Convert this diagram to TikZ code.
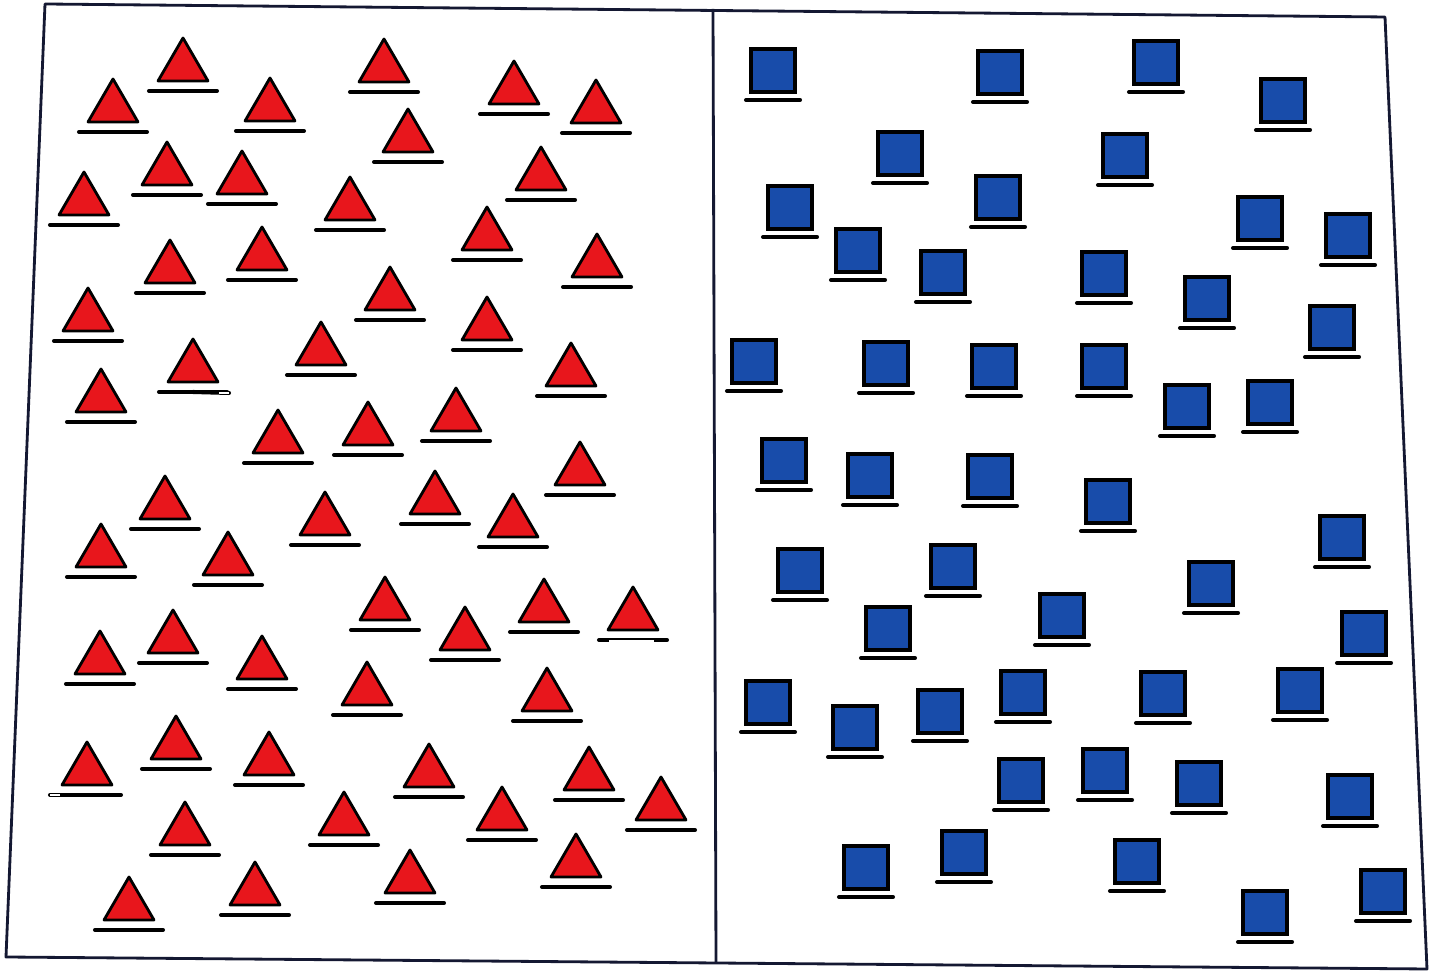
\documentclass[tikz,border=0pt]{standalone}
\definecolor{trired}{RGB}{232,22,28}
\definecolor{sqblue}{RGB}{24,76,170}
\definecolor{framecol}{RGB}{20,24,50}
\tikzset{
  underline/.style={line width=1.15pt, line cap=round, black},
  trishape/.style={fill=trired, draw=black, line width=0.8pt, line join=round},
  sqshape/.style={fill=sqblue, draw=black, line width=0.9pt},
  frameline/.style={draw=framecol, line width=0.8pt, line join=round},
  tri/.pic={\path[trishape] (-25,-10) -- (0,-53) -- (25,-10) -- cycle;
            \draw[underline] (-34,0) -- (34,0);},
  sq/.pic={\path[sqshape] (-22,-51) rectangle (22,-8);
           \draw[underline] (-27,0) -- (27,0);},
}
\begin{document}
\begin{tikzpicture}[x=0.01cm, y=-0.01cm]
\useasboundingbox (0,0) rectangle (1436,971);
\fill[white] (0,0) rectangle (1436,971);
% frame
\coordinate (tl) at (45,4);
\coordinate (tr) at (1385,17);
\coordinate (br) at (1427,969);
\coordinate (bl) at (6,957);
\coordinate (dt) at (713,9);
\coordinate (db) at (716,963);
\draw[frameline] (tl) -- (tr) -- (br) -- (bl) -- cycle;
\draw[frameline] (dt) -- (db);
% triangles
\foreach \px/\py [count=\i] in {
 183/91, 113/132, 270/131, 384/92, 514/114, 596/133, 408/162, 167/195,
 242/204, 84/225, 350/230, 541/200, 487/260, 170/293, 262/280, 597/287,
 390/320, 88/341, 487/350, 321/375, 193/392, 571/396, 101/422, 278/463,
 368/455, 456/441, 580/495, 165/529, 325/545, 435/524, 513/547, 101/577,
 228/585, 385/630, 544/632, 633/640, 465/660, 100/684, 173/663, 262/689,
 367/715, 547/721, 176/769, 269/785, 87/795, 429/797, 589/800, 661/830,
 185/855, 344/845, 502/840, 576/887, 410/903, 255/915, 129/930}
 {\pic (t\i) at (\px,\py) {tri};}
% small scan marks on some underlines
\draw[underline] (193,392) -- (229,393);
\draw[white, line width=0.35pt] (219,393) -- (229,393);
\draw[underline] (50,795) -- (87,795);
\draw[white, line width=0.35pt] (50,795) -- (60,795);
\draw[white, line width=0.4pt] (609,641) -- (654,641);
% squares
\foreach \px/\py [count=\i] in {
 773/100, 1000/102, 1156/92, 1283/130, 900/183, 1125/185, 790/237, 998/227,
 1260/248, 1348/265, 858/280, 943/302, 1104/303, 1207/328, 1332/357, 754/391,
 886/393, 994/396, 1104/396, 1187/436, 1270/432, 784/490, 870/505, 990/506,
 1108/531, 1342/567, 800/600, 953/596, 1211/613, 1062/645, 888/658, 1364/663,
 768/732, 855/757, 940/741, 1023/722, 1163/723, 1300/720, 1021/810, 1105/800,
 1199/813, 1350/826, 866/897, 964/882, 1137/891, 1265/942, 1383/921}
 {\pic (s\i) at (\px,\py) {sq};}
\end{tikzpicture}
\end{document}
